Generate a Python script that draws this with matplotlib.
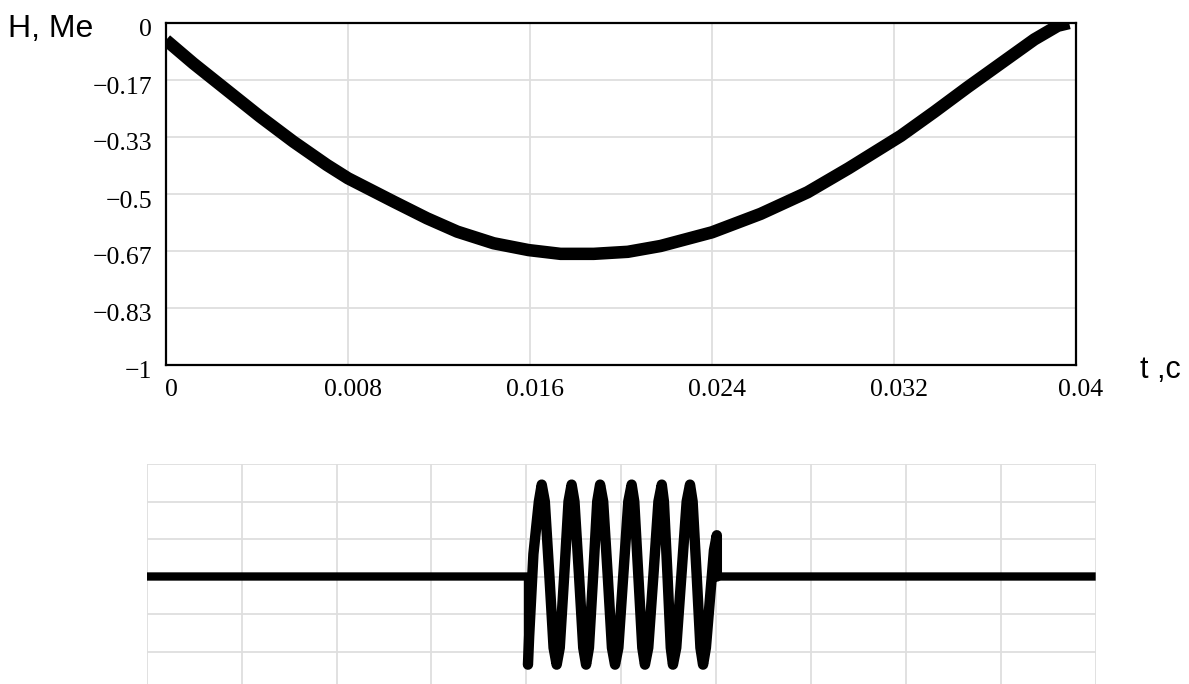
import numpy as np
import matplotlib.pyplot as plt
from matplotlib.ticker import MultipleLocator, FixedLocator
import matplotlib.transforms as mtransforms

# upper curve H(t)
t_h = [0.0, 0.0012, 0.00267, 0.00414, 0.0056, 0.00707, 0.008, 0.0100, 0.01147,
       0.0128, 0.0144, 0.01594, 0.01734, 0.0188, 0.0203, 0.02174, 0.024, 0.02614,
       0.0282, 0.0300, 0.0323, 0.03377, 0.03523, 0.0367, 0.03817, 0.0392, 0.0397]
h_vals = [-0.05, -0.118, -0.196, -0.274, -0.347, -0.415, -0.454, -0.522, -0.571,
          -0.610, -0.644, -0.664, -0.675, -0.675, -0.669, -0.652, -0.612, -0.558,
          -0.495, -0.425, -0.330, -0.260, -0.188, -0.118, -0.048, -0.008, 0.0]

y_ticks = [0, -1/6, -2/6, -3/6, -4/6, -5/6, -1]
y_labels = ["0", "\u22120.17", "\u22120.33", "\u22120.5", "\u22120.67", "\u22120.83", "\u22121"]
x_ticks = [0, 0.008, 0.016, 0.024, 0.032, 0.04]
x_labels = ["0", "0.008", "0.016", "0.024", "0.032", "0.04"]

# lower oscillogram
t_osc = [0.0, 0.01607, 0.01607,
         0.01612, 0.01630, 0.01653, 0.01665,
         0.01678, 0.01697, 0.01715, 0.01728,
         0.01741, 0.01760, 0.01778, 0.01791,
         0.01803, 0.01822, 0.01840, 0.01852,
         0.01864, 0.01882, 0.01899, 0.01911,
         0.01924, 0.01943, 0.01961, 0.01974,
         0.01988, 0.02009, 0.02030, 0.02044,
         0.02055, 0.02072, 0.02089, 0.02100,
         0.02114, 0.02136, 0.02157, 0.02171,
         0.02180, 0.02195, 0.02209, 0.02218,
         0.02232, 0.02254, 0.02276, 0.02290,
         0.02301, 0.02318, 0.02334, 0.02345,
         0.02357, 0.02374, 0.02391, 0.02403,
         0.02403, 0.04]
y_osc = [0.0, 0.0, -2.35,
         -1.6, 0.6, 2.0, 2.45,
         2.0, 0.05, -1.9, -2.35,
         -1.9, 0.05, 2.0, 2.45,
         2.0, 0.05, -1.9, -2.35,
         -1.9, 0.05, 2.0, 2.45,
         2.0, 0.05, -1.9, -2.35,
         -1.9, 0.05, 2.0, 2.45,
         2.0, 0.05, -1.9, -2.35,
         -1.9, 0.05, 2.0, 2.45,
         2.0, 0.05, -1.9, -2.35,
         -1.9, 0.05, 2.0, 2.45,
         2.0, 0.05, -1.9, -2.35,
         -1.9, -0.6, 0.7, 1.1,
         0.0, 0.0]

GRID = "#dedede"
SERIF = ["Liberation Serif", "DejaVu Serif"]
SANS = ["Liberation Sans", "DejaVu Sans"]

fig = plt.figure(figsize=(11.89, 6.84), dpi=100, facecolor="white")

# --- top panel ---
ax = fig.add_axes([166 / 1189, 1 - 365 / 684, 910 / 1189, 342 / 684])
ax.plot(t_h, h_vals, color="black", lw=9, solid_capstyle="butt",
        solid_joinstyle="round")
ax.set_xlim(0, 0.04)
ax.set_ylim(-1, 0)
ax.yaxis.set_major_locator(FixedLocator(y_ticks))
ax.set_yticklabels(y_labels, fontfamily=SERIF, fontsize=18.5)
ax.xaxis.set_major_locator(FixedLocator(x_ticks))
ax.set_xticklabels(x_labels, fontfamily=SERIF, fontsize=18.5)
ax.tick_params(length=0, pad=10)
ax.grid(True, color=GRID, lw=1.3)
ax.set_axisbelow(True)
for sp in ax.spines.values():
    sp.set_linewidth(1.6)
    sp.set_color("black")

# nudge labels a bit like the original
dy = mtransforms.ScaledTranslation(0, -5 / 100, fig.dpi_scale_trans)
for lab in ax.get_yticklabels():
    lab.set_transform(lab.get_transform() + dy)
dx = mtransforms.ScaledTranslation(5 / 100, 0, fig.dpi_scale_trans)
for lab in ax.get_xticklabels():
    lab.set_transform(lab.get_transform() + dx)

fig.text(8 / 1189, 1 - 37 / 684, "H, Me", fontfamily=SANS, fontsize=23,
         ha="left", va="baseline")
fig.text(1140 / 1189, 1 - 378 / 684, "t ,c", fontfamily=SANS, fontsize=22,
         ha="left", va="baseline")

# --- bottom panel ---
ax2 = fig.add_axes([146.7 / 1189, -5 / 684, 949 / 1189, 225 / 684])
ax2.plot(t_osc, y_osc, color="black", lw=6, solid_joinstyle="round",
         solid_capstyle="butt")
# the burst itself is drawn heavier in the original
ax2.plot(t_osc[2:-1], y_osc[2:-1], color="black", lw=7.5,
         solid_joinstyle="round", solid_capstyle="round")
ax2.set_xlim(0, 0.04)
ax2.set_ylim(-3, 3)
ax2.xaxis.set_major_locator(MultipleLocator(0.004))
ax2.yaxis.set_major_locator(MultipleLocator(1))
ax2.tick_params(length=0, labelleft=False, labelbottom=False)
ax2.grid(True, color=GRID, lw=1.3)
ax2.set_axisbelow(True)
for sp in ax2.spines.values():
    sp.set_visible(False)

fig.savefig("out.png", dpi=100, facecolor="white")
